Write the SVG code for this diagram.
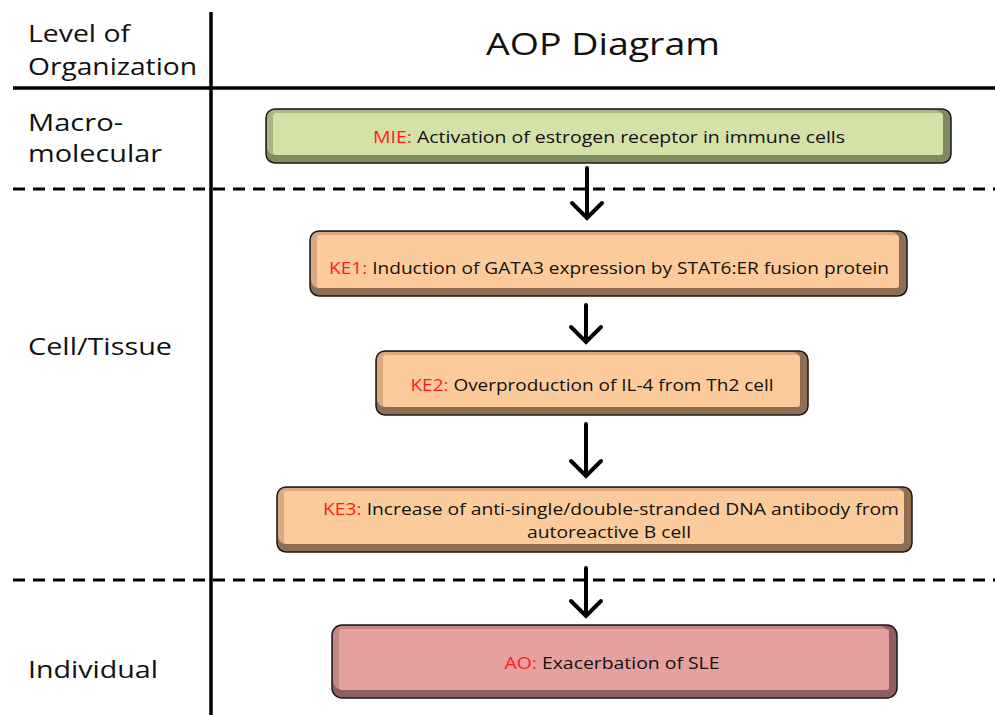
<svg xmlns="http://www.w3.org/2000/svg" width="995" height="715" viewBox="0 0 995 715">
  <style>
    .lbl { font-family: "Open Sans", "Noto Sans", "DejaVu Sans", sans-serif; fill: #111; }
    .side { font-size: 24px; }
    .title { font-size: 31px; }
    .box { font-size: 16.5px; }
    .tag { fill: #ff1a1a; }
    .rule { stroke: #000; stroke-width: 3.5; fill: none; }
    .dash { stroke: #000; stroke-width: 3; stroke-dasharray: 12 8; fill: none; }
    .edge { stroke: #1a1a1a; stroke-width: 1.5; }
    .arrow { stroke: #000; stroke-width: 4; fill: none; stroke-linecap: round; stroke-linejoin: miter; }
  </style>

  <rect width="995" height="715" fill="#ffffff"/>

  <!-- table grid -->
  <g id="grid">
    <line class="rule" x1="211" y1="12" x2="211" y2="715" stroke-width="4"/>
    <line class="rule" x1="13" y1="88" x2="995" y2="88"/>
    <line class="dash" x1="13" y1="189" x2="995" y2="189"/>
    <line class="dash" x1="13" y1="580" x2="995" y2="580"/>
  </g>

  <!-- header and level labels -->
  <g id="labels">
    <text class="lbl side" x="28" y="42" textLength="102" lengthAdjust="spacingAndGlyphs">Level of</text>
    <text class="lbl side" x="28" y="75" textLength="169" lengthAdjust="spacingAndGlyphs">Organization</text>
    <text class="lbl title" x="603" y="55" text-anchor="middle" textLength="234" lengthAdjust="spacingAndGlyphs">AOP Diagram</text>
    <text class="lbl side" x="28" y="131" textLength="95" lengthAdjust="spacingAndGlyphs">Macro-</text>
    <text class="lbl side" x="28" y="162" textLength="134" lengthAdjust="spacingAndGlyphs">molecular</text>
    <text class="lbl side" x="28" y="355" textLength="144" lengthAdjust="spacingAndGlyphs">Cell/Tissue</text>
    <text class="lbl side" x="28" y="678" textLength="130" lengthAdjust="spacingAndGlyphs">Individual</text>
  </g>

  <!-- MIE -->
  <g id="mie">
    <rect class="edge" x="266" y="109" width="685" height="54" rx="9" fill="#7d8b5e"/>
    <rect x="267" y="110" width="676" height="45" rx="8" fill="#a9b687"/>
    <rect x="273" y="113" width="670" height="42" rx="3" fill="#d4e2a8"/>
    <text class="lbl box" x="609" y="143" text-anchor="middle" textLength="472" lengthAdjust="spacingAndGlyphs"><tspan class="tag">MIE:</tspan> Activation of estrogen receptor in immune cells</text>
  </g>

  <!-- KE1 -->
  <g id="ke1">
    <rect class="edge" x="310" y="231" width="597" height="65" rx="9" fill="#8f6f53"/>
    <rect x="311" y="232" width="588" height="56" rx="8" fill="#d9aa80"/>
    <rect x="317" y="235" width="582" height="53" rx="3" fill="#fccb9c"/>
    <text class="lbl box" x="609" y="274" text-anchor="middle" textLength="560" lengthAdjust="spacingAndGlyphs"><tspan class="tag">KE1:</tspan> Induction of GATA3 expression by STAT6:ER fusion protein</text>
  </g>

  <!-- KE2 -->
  <g id="ke2">
    <rect class="edge" x="376" y="351" width="432" height="64" rx="9" fill="#8f6f53"/>
    <rect x="377" y="352" width="423" height="55" rx="8" fill="#d9aa80"/>
    <rect x="383" y="355" width="417" height="52" rx="3" fill="#fccb9c"/>
    <text class="lbl box" x="592" y="391" text-anchor="middle" textLength="363" lengthAdjust="spacingAndGlyphs"><tspan class="tag">KE2:</tspan> Overproduction of IL-4 from Th2 cell</text>
  </g>

  <!-- KE3 -->
  <g id="ke3">
    <rect class="edge" x="277" y="487" width="635" height="65" rx="9" fill="#8f6f53"/>
    <rect x="278" y="488" width="626" height="56" rx="8" fill="#d9aa80"/>
    <rect x="284" y="491" width="620" height="53" rx="3" fill="#fccb9c"/>
    <text class="lbl box" x="611" y="515" text-anchor="middle" textLength="576" lengthAdjust="spacingAndGlyphs"><tspan class="tag">KE3:</tspan> Increase of anti-single/double-stranded DNA antibody from</text>
    <text class="lbl box" x="609" y="538" text-anchor="middle" textLength="164" lengthAdjust="spacingAndGlyphs">autoreactive B cell</text>
  </g>

  <!-- AO -->
  <g id="ao">
    <rect class="edge" x="332" y="625" width="565" height="73" rx="10" fill="#8d5f5f"/>
    <rect x="333" y="626" width="556" height="64" rx="9" fill="#c28787"/>
    <rect x="339" y="629" width="550" height="61" rx="3" fill="#e5a09f"/>
    <text class="lbl box" x="612" y="669" text-anchor="middle" textLength="215" lengthAdjust="spacingAndGlyphs"><tspan class="tag">AO:</tspan> Exacerbation of SLE</text>
  </g>

  <!-- connectors -->
  <g id="connectors">
    <path class="arrow" d="M587 168 V218 M572 203 L587 218 L602 203"/>
    <path class="arrow" d="M586 305 V342 M571 327 L586 342 L601 327"/>
    <path class="arrow" d="M586 424 V476 M571 461 L586 476 L601 461"/>
    <path class="arrow" d="M586 568 V616 M571 601 L586 616 L601 601"/>
  </g>
</svg>
